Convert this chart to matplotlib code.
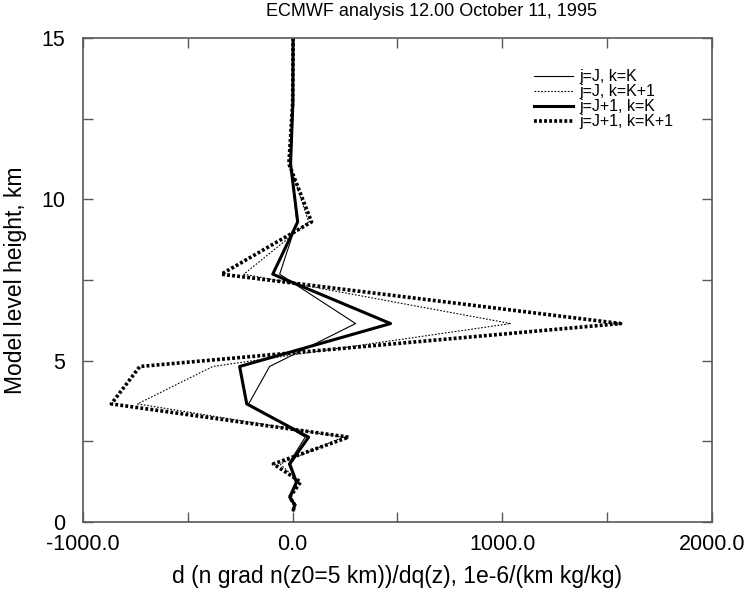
import matplotlib
matplotlib.use('Agg')
import matplotlib.pyplot as plt
from matplotlib.ticker import MultipleLocator, FormatStrFormatter

plt.rcParams['font.family'] = ['Liberation Sans', 'DejaVu Sans']

# model level heights (km) and the four sensitivity profiles
heights = [15.0, 13.0, 11.1, 9.3, 7.68, 6.15, 4.82, 3.66, 2.63, 1.8, 1.24, 0.77, 0.53, 0.37]
jJ_kK = [2, 1, -10, 20, -62, 300, -110, -210, 60, -20, 15, -10, 8, 2]
jJ_kK1 = [2, 2, -15, 76, -233, 1040, -381, -740, 240, -60, 30, -12, 9, 3]
jJ1_kK = [2, 1, -10, 24, -95, 467, -253, -219, 76, -14, 18, -14, 10, 3]
jJ1_kK1 = [2, 0, -18, 90, -340, 1564, -729, -865, 267, -92, 38, -14, 10, 3]

fig = plt.figure(figsize=(7.48, 5.97), dpi=100)
ax = fig.add_axes([83 / 748, 75 / 597, 629 / 748, 484 / 597])

ax.plot(jJ_kK, heights, color='black', lw=0.8, label='j=J, k=K')
ax.plot(jJ_kK1, heights, color='black', lw=0.8, ls=(0, (1.5, 1.5)), label='j=J, k=K+1')
ax.plot(jJ1_kK, heights, color='black', lw=2.2, label='j=J+1, k=K')
ax.plot(jJ1_kK1, heights, color='black', lw=2.6, ls=(0, (0.8, 0.6)), label='j=J+1, k=K+1')

ax.set_xlim(-1000, 2000)
ax.set_ylim(0, 15)
ax.xaxis.set_major_locator(MultipleLocator(1000))
ax.xaxis.set_minor_locator(MultipleLocator(500))
ax.yaxis.set_major_locator(MultipleLocator(5))
ax.yaxis.set_minor_locator(MultipleLocator(2.5))
ax.xaxis.set_major_formatter(FormatStrFormatter('%.1f'))
ax.tick_params(which='both', direction='in', top=True, right=True, length=7,
               width=1, color='0.35', labelsize=15.5)
ax.tick_params(axis='x', pad=9)
ax.tick_params(axis='y', pad=13)
for s in ax.spines.values():
    s.set_color('0.35')
    s.set_linewidth(1.2)

ax.set_xlabel('d (n grad n(z0=5 km))/dq(z), 1e-6/(km kg/kg)', fontsize=16.5, labelpad=7)
ax.set_ylabel('Model level height, km', fontsize=16.5, labelpad=10)
fig.text(431 / 748, 1 - 12 / 597, 'ECMWF analysis 12.00 October 11, 1995',
         fontsize=13, ha='center', va='center')

ax.legend(loc='upper right', bbox_to_anchor=((673 - 83) / 629, 0.935), frameon=False,
          fontsize=11.5, handlelength=2.4, handletextpad=0.4, labelspacing=0.0,
          borderaxespad=0, borderpad=0)

fig.savefig('out.png', dpi=100)
